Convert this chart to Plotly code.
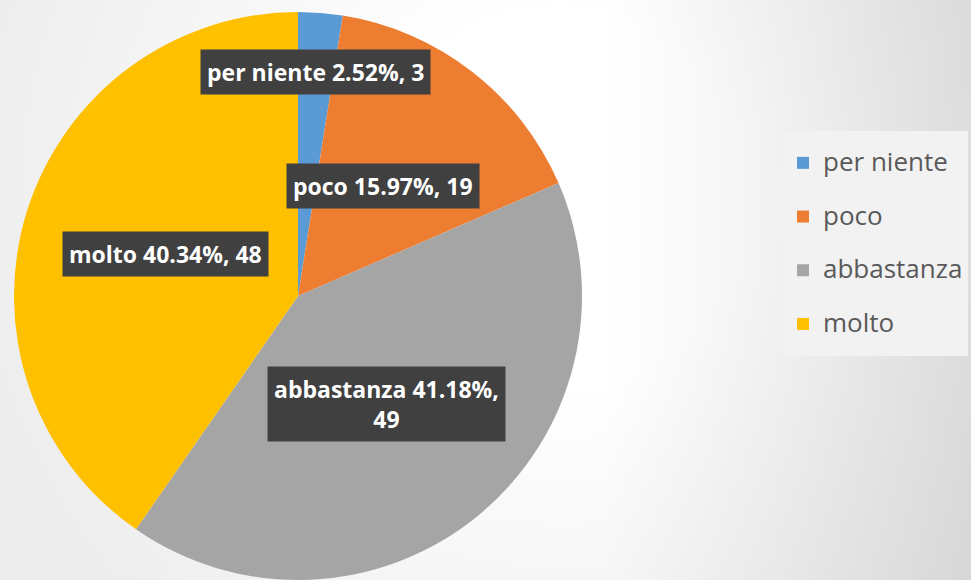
import base64
import math
import plotly.graph_objects as go

# ---- data ----
categories = ["per niente", "poco", "abbastanza", "molto"]
counts = [3, 19, 49, 48]
colors = ["#5B9BD5", "#ED7D31", "#A5A5A5", "#FFC000"]

# ---- layout constants (pixels) ----
W, H = 971, 580
M_TOP = 12
R = (H - M_TOP) / 2
CX = 298
CY = M_TOP + R
label_rfrac = [0.79, 0.49, 0.49, 0.49]

total = sum(counts)
pcts = [c / total * 100 for c in counts]

# background gradient as svg
svg = f"""<svg xmlns='http://www.w3.org/2000/svg' width='{W}' height='{H}'>
<defs>
<radialGradient id='g' cx='560' cy='200' r='620' gradientUnits='userSpaceOnUse'>
<stop offset='0' stop-color='#ffffff'/><stop offset='0.3' stop-color='#ffffff'/>
<stop offset='1' stop-color='#ececec'/></radialGradient>
<linearGradient id='h' x1='0' y1='0' x2='{W}' y2='0' gradientUnits='userSpaceOnUse'>
<stop offset='0' stop-color='#000' stop-opacity='0'/>
<stop offset='0.62' stop-color='#000' stop-opacity='0'/>
<stop offset='1' stop-color='#000' stop-opacity='0.1'/></linearGradient>
</defs>
<rect width='{W}' height='{H}' fill='url(#g)'/>
<rect width='{W}' height='{H}' fill='url(#h)'/></svg>"""
bg_uri = "data:image/svg+xml;base64," + base64.b64encode(svg.encode()).decode()

fig = go.Figure()
fig.add_trace(go.Pie(
    labels=[f"<span style='font-size:26px;baseline-shift:7px'>{c}</span>" for c in categories],
    values=counts,
    sort=False,
    direction="clockwise",
    rotation=0,
    marker=dict(colors=colors, line=dict(width=0)),
    textinfo="none",
    hoverinfo="value+percent",
    domain=dict(x=[(CX - R) / W, (CX + R) / W], y=[0, 1]),
))

# data label boxes, positioned from cumulative slice angles
annotations = []
cum = 0.0
for cat, cnt, pct, rf in zip(categories, counts, pcts, label_rfrac):
    mid = (cum + cnt / 2) / total * 2 * math.pi
    cum += cnt
    px = CX + rf * R * math.sin(mid)
    py = CY - rf * R * math.cos(mid)
    txt = f"{cat} {pct:.2f}%, {cnt}"
    if cat == "abbastanza":
        txt = f"{cat} {pct:.2f}%,<br>{cnt}"
    annotations.append(dict(
        x=px / W, y=(H - py) / (H - M_TOP), xref="paper", yref="paper",
        xanchor="center", yanchor="middle",
        text=f"<b>{txt}</b>", showarrow=False,
        font=dict(family="Open Sans", size=23, color="white"),
        bgcolor="#404040", borderpad=6, align="center",
    ))

fig.update_layout(
    width=W, height=H,
    margin=dict(l=0, r=0, t=M_TOP, b=0, autoexpand=False),
    paper_bgcolor="#e6e6e6",
    plot_bgcolor="rgba(0,0,0,0)",
    images=[dict(source=bg_uri, xref="paper", yref="paper", x=0, y=1 + M_TOP / (H - M_TOP),
                 sizex=1, sizey=H / (H - M_TOP), sizing="stretch", layer="below",
                 xanchor="left", yanchor="top")],
    annotations=annotations,
    showlegend=True,
    legend=dict(
        x=783 / W, xanchor="left",
        y=(H - 131) / (H - M_TOP), yanchor="top",
        bgcolor="#f2f2f2",
        font=dict(family="Open Sans", size=39, color="#595959"),
        itemclick=False, itemdoubleclick=False,
    ),
)

fig.write_html("out.html", config={"displayModeBar": False},
               post_script="document.body.style.margin='0';")
